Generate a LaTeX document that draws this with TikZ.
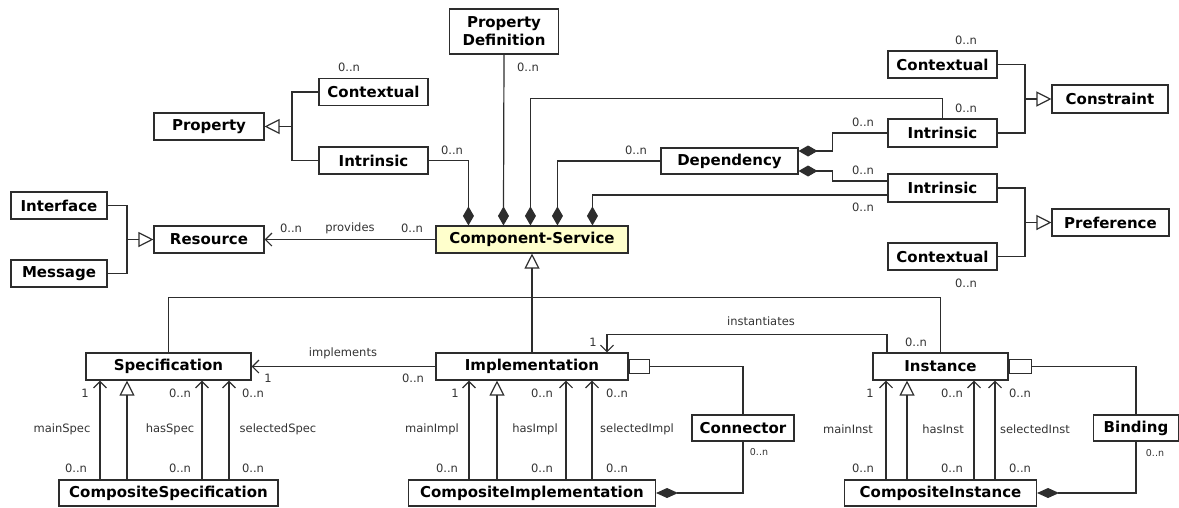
\documentclass[tikz,border=0pt]{standalone}
\usepackage{fontspec}
\setmainfont{DejaVu Sans}
\usetikzlibrary{arrows.meta,calc}
\definecolor{csfill}{RGB}{255,255,204}
\definecolor{ln}{RGB}{45,45,45}
\begin{document}
\begin{tikzpicture}[x=1pt,y=-1pt,
  cls/.style={draw=ln, line width=1.1pt, fill=white, inner sep=0pt, font=\fontsize{15}{17}\selectfont\bfseries, minimum height=27pt},
  lbl/.style={font=\fontsize{11.5}{13}\selectfont, text=black!80, inner sep=0pt},
  wire/.style={draw=ln, line width=1.2pt},
  gen/.style={wire, -{Triangle[open,length=15pt,width=15pt]}},
  assoc/.style={wire, -{Straight Barb[length=6.5pt,width=13pt]}},
  comp/.style={wire, -{Diamond[length=19pt,width=11pt]}},
  compb/.style={wire, -{Diamond[length=22pt,width=10pt]}},
  port/.style={draw=ln, line width=1.1pt, fill=white, inner sep=0pt, minimum width=20pt, minimum height=14pt, anchor=west}]
\useasboundingbox (0,0) rectangle (1179,507);

% classes
\node[cls, minimum width=110pt] (prop) at (209,126.5) {Property};
\node[cls, minimum width=109pt] (pctx) at (373.5,92) {Contextual};
\node[cls, minimum width=109pt] (pint) at (373.5,160.5) {Intrinsic};
\node[cls, minimum width=109pt, minimum height=45pt, align=center, font=\fontsize{15}{18}\selectfont\bfseries] (pdef) at (504,31.5) {Property\\Definition};
\node[cls, minimum width=137pt, minimum height=26pt] (dep) at (729.5,161) {Dependency};
\node[cls, minimum width=109pt] (cctx) at (942.5,64.5) {Contextual};
\node[cls, minimum width=109pt, minimum height=28pt] (cint) at (942.5,133) {Intrinsic};
\node[cls, minimum width=116pt, minimum height=28pt] (cons) at (1110,99) {Constraint};
\node[cls, minimum width=109pt, minimum height=28pt] (rint) at (942.5,188) {Intrinsic};
\node[cls, minimum width=109pt] (rctx) at (942.5,256.5) {Contextual};
\node[cls, minimum width=117pt] (pref) at (1110.5,222.5) {Preference};
\node[cls, minimum width=96pt] (iface) at (59,205.5) {Interface};
\node[cls, minimum width=96pt] (msg) at (59,273.5) {Message};
\node[cls, minimum width=110pt] (res) at (209,239.5) {Resource};
\node[cls, minimum width=192pt, fill=csfill] (cs) at (532,239.5) {Component-Service};
\node[cls, minimum width=165pt] (spec) at (168.5,366.5) {Specification};
\node[cls, minimum width=192pt] (impl) at (532,366.5) {Implementation};
\node[cls, minimum width=135pt] (inst) at (940.5,366.5) {Instance};
\node[cls, minimum width=219pt, minimum height=26pt] (cspec) at (168.5,493) {CompositeSpecification};
\node[cls, minimum width=247pt, minimum height=26pt] (cimpl) at (532,493) {CompositeImplementation};
\node[cls, minimum width=192pt, minimum height=26pt] (cinst) at (940.5,493) {CompositeInstance};
\node[cls, minimum width=102pt, minimum height=26pt] (conn) at (743,428) {Connector};
\node[cls, minimum width=85pt, minimum height=26pt] (bind) at (1136,428) {Binding};
\node[port] (implport) at (impl.east) {};
\node[port, minimum width=22pt] (instport) at (inst.east) {};

% junction points
\coordinate (pj) at (292,126.5);
\coordinate (cj) at (1025,99);
\coordinate (rj) at (1025,222.5);
\coordinate (mj) at (127,239.5);
\coordinate (cs1) at ([xshift=33pt]cs.north west);
\coordinate (cs2) at ([xshift=68pt]cs.north west);
\coordinate (cs3) at ([xshift=95pt]cs.north west);
\coordinate (cs4) at ([xshift=122pt]cs.north west);
\coordinate (cs5) at ([xshift=157pt]cs.north west);

% generalizations (top)
\draw[wire] (pctx.west) -| (pj);
\draw[wire] (pint.west) -| (pj);
\draw[gen] (pj) -- (prop.east);
\draw[wire] (cctx.east) -| (cj);
\draw[wire] (cint.east) -| (cj);
\draw[gen] (cj) -- (cons.west);
\draw[wire] (rint.east) -| (rj);
\draw[wire] (rctx.east) -| (rj);
\draw[gen] (rj) -- (pref.west);
\draw[wire] (iface.east) -| (mj);
\draw[wire] (msg.east) -| (mj);
\draw[gen] (mj) -- (res.west);

% compositions into Component-Service
\draw[comp] (pint.east) -| (cs1);
\draw[comp] (pdef.south) -- (cs2);
\draw[comp] (cint.north) -- ++(0,-20) -| (cs3);
\draw[comp] (dep.west) -| (cs4);
\draw[comp] ([yshift=-7pt]rint.west) -| (cs5);
\draw[comp] (cint.west) -- ++(-55,0) |- ([yshift=10pt]dep.east);
\draw[comp] ([yshift=7pt]rint.west) -- ++(-55,0) |- ([yshift=-10pt]dep.east);

% provides
\draw[assoc] (cs.west) -- (res.east);

% generalization to Component-Service
\draw[gen] (impl.north) -- (cs.south);
\draw[wire] (spec.north) -- ++(0,-55) -| (inst.north);

% instantiates, implements
\draw[assoc] ([xshift=-53.5pt]inst.north) -- ++(0,-18) -| ([xshift=75pt]impl.north);
\draw[assoc] (impl.west) -- (spec.east);

% composite specification
\draw[assoc] ([xshift=-68.5pt]cspec.north) -- ([xshift=-68.5pt]spec.south);
\draw[gen]   ([xshift=-41.5pt]cspec.north) -- ([xshift=-41.5pt]spec.south);
\draw[assoc] ([xshift=33.5pt]cspec.north) -- ([xshift=33.5pt]spec.south);
\draw[assoc] ([xshift=60.5pt]cspec.north) -- ([xshift=60.5pt]spec.south);
% composite implementation
\draw[assoc] ([xshift=-63pt]cimpl.north) -- ([xshift=-63pt]impl.south);
\draw[gen]   ([xshift=-35pt]cimpl.north) -- ([xshift=-35pt]impl.south);
\draw[assoc] ([xshift=34pt]cimpl.north) -- ([xshift=34pt]impl.south);
\draw[assoc] ([xshift=60pt]cimpl.north) -- ([xshift=60pt]impl.south);
% composite instance
\draw[assoc] ([xshift=-54.5pt]cinst.north) -- ([xshift=-54.5pt]inst.south);
\draw[gen]   ([xshift=-33.5pt]cinst.north) -- ([xshift=-33.5pt]inst.south);
\draw[assoc] ([xshift=33.5pt]cinst.north) -- ([xshift=33.5pt]inst.south);
\draw[assoc] ([xshift=54.5pt]cinst.north) -- ([xshift=54.5pt]inst.south);

% connector, binding
\draw[wire] (implport.east) -| (conn.north);
\draw[compb] (conn.south) |- (cimpl.east);
\draw[wire] (instport.east) -| (bind.north);
\draw[compb] (bind.south) |- (cinst.east);

% labels
\node[lbl] (t1) at (349,67) {0..n};
\node[lbl] (t2) at (452,150) {0..n};
\node[lbl] (t3) at (528,67) {0..n};
\node[lbl] (t4) at (636,150) {0..n};
\node[lbl] (t5) at (966,40) {0..n};
\node[lbl] (t6) at (966,108) {0..n};
\node[lbl] (t7) at (863,122) {0..n};
\node[lbl] (t8) at (863,170) {0..n};
\node[lbl] (t9) at (863,207) {0..n};
\node[lbl] (t10) at (966,283) {0..n};
\node[lbl] (t11) at (291,228) {0..n};
\node[lbl] (t12) at (350,228) {provides};
\node[lbl] (t13) at (412,228) {0..n};
\node[lbl] (t14) at (761,321) {instantiates};
\node[lbl] (t15) at (593,342) {1};
\node[lbl] (t16) at (916,342) {0..n};
\node[lbl] (t17) at (343,353) {implements};
\node[lbl] (t18) at (268,378) {1};
\node[lbl] (t19) at (413,378) {0..n};
% spec
\node[lbl] (s1) at (85,393) {1};
\node[lbl] (s2) at (180,393) {0..n};
\node[lbl] (s3) at (253,393) {0..n};
\node[lbl] (s4) at (62,429) {mainSpec};
\node[lbl] (s5) at (170,429) {hasSpec};
\node[lbl] (s6) at (278,429) {selectedSpec};
\node[lbl] (s7) at (76,468) {0..n};
\node[lbl] (s8) at (180,468) {0..n};
\node[lbl] (s9) at (253,468) {0..n};
% impl
\node[lbl] (i1) at (455,393) {1};
\node[lbl] (i2) at (542,393) {0..n};
\node[lbl] (i3) at (617,393) {0..n};
\node[lbl] (i4) at (432,429) {mainImpl};
\node[lbl] (i5) at (535,429) {hasImpl};
\node[lbl] (i6) at (637,429) {selectedImpl};
\node[lbl] (i7) at (447,468) {0..n};
\node[lbl] (i8) at (542,468) {0..n};
\node[lbl] (i9) at (617,468) {0..n};
\node[lbl, font=\fontsize{9.5}{11}\selectfont] (i10) at (759,452) {0..n};
% inst
\node[lbl] (n1) at (870,393) {1};
\node[lbl] (n2) at (952,393) {0..n};
\node[lbl] (n3) at (1020,393) {0..n};
\node[lbl] (n4) at (848,429) {mainInst};
\node[lbl] (n5) at (943,429) {hasInst};
\node[lbl] (n6) at (1035,429) {selectedInst};
\node[lbl] (n7) at (863,468) {0..n};
\node[lbl] (n8) at (952,468) {0..n};
\node[lbl] (n9) at (1020,468) {0..n};
\node[lbl, font=\fontsize{9.5}{11}\selectfont] (n10) at (1155,453) {0..n};
\end{tikzpicture}
\end{document}
